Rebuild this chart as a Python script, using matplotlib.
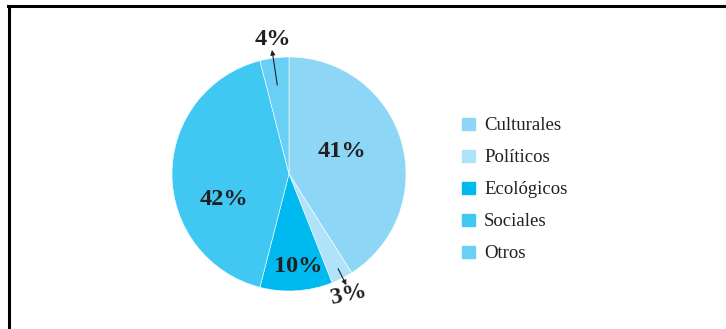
import matplotlib.pyplot as plt
from matplotlib.lines import Line2D

# data
categories = ["Culturales", "Políticos", "Ecológicos", "Sociales", "Otros"]
values = [41, 3, 10, 42, 4]
colors = ["#8dd6f6", "#b0e3fa", "#00b9ef", "#40c8f3", "#6acff5"]

# label placement (data coords of the pie axes, radius = 1)
label_pos = [(0.45, 0.19), (0.51, -1.03), (0.08, -0.79), (-0.56, -0.22), (-0.14, 1.15)]
label_rot = [0, 12, 0, 0, 0]
arrow_from = {1: (0.42, -0.81), 4: (-0.10, 0.76)}
arrow_to = {1: (0.49, -0.95), 4: (-0.145, 1.06)}

plt.rcParams['font.family'] = ['Liberation Serif', 'DejaVu Serif']

fig = plt.figure(figsize=(7.26, 3.29), dpi=100)
W, H = 726, 329

# frame (top + left only)
fig.add_artist(Line2D([8 / W, 1], [1 - 6 / H, 1 - 6 / H], color="black", lw=2.2, transform=fig.transFigure))
fig.add_artist(Line2D([9 / W, 9 / W], [0, 1 - 6 / H], color="black", lw=2.2, transform=fig.transFigure))

cx, cy, r = 289, 174, 117
ax = fig.add_axes([(cx - r) / W, (H - cy - r) / H, 2 * r / W, 2 * r / H])
wedges, _ = ax.pie(values, colors=colors, startangle=90, counterclock=False,
                   wedgeprops=dict(edgecolor="white", linewidth=0.4))
ax.set_xlim(-1, 1)
ax.set_ylim(-1, 1)
ax.set_aspect("equal")
ax.axis("off")

for i, v in enumerate(values):
    x, y = label_pos[i]
    ax.text(x, y, f"{v}%", ha="center", va="center", fontsize=17.5, rotation=label_rot[i],
            fontweight="bold", color="#231f20", clip_on=False)
    if i in arrow_from:
        ax.annotate("", xy=arrow_to[i], xytext=arrow_from[i],
                    arrowprops=dict(arrowstyle="-|>", color="#231f20", lw=0.8,
                                    mutation_scale=7, shrinkA=0, shrinkB=0),
                    annotation_clip=False)

handles = [plt.Rectangle((0, 0), 1, 1, color=c) for c in colors]
fig.legend(handles, categories, loc="upper left", bbox_to_anchor=(455 / W, 1 - 110 / H),
           frameon=False, fontsize=13.5, handlelength=0.65, handleheight=0.65,
           handletextpad=0.5, labelspacing=0.8, borderaxespad=0, labelcolor="#231f20")

fig.savefig("out.png", dpi=100)
